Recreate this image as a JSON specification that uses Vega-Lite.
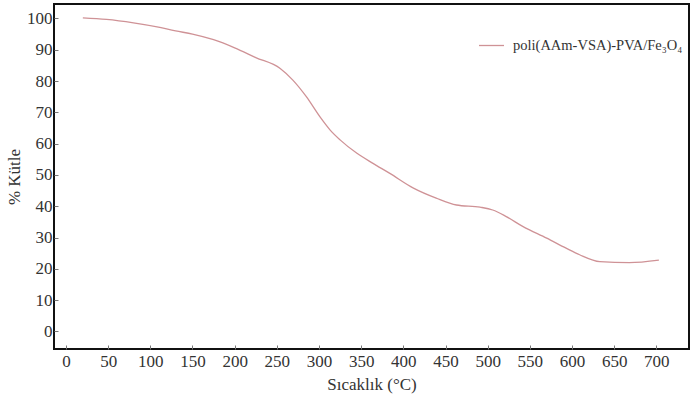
{
  "$schema": "https://vega.github.io/schema/vega-lite/v6.json",
  "width": 635,
  "height": 345,
  "autosize": {"type": "none"},
  "padding": {"left": 54, "top": 4, "right": 8, "bottom": 61},
  "background": "white",
  "config": {
    "view": {"stroke": "#111", "strokeWidth": 2},
    "axis": {
      "labelFont": "Tinos, Times, serif",
      "titleFont": "Tinos, Times, serif",
      "labelFontSize": 17,
      "titleFontSize": 17,
      "titleFontWeight": "normal",
      "labelColor": "#333",
      "titleColor": "#333",
      "grid": false,
      "domain": false,
      "tickColor": "#777",
      "tickSize": -4
    },
    "legend": {"labelLimit": 400}
  },
  "data": {
    "values": [
      {"T": 20, "m": 100.2, "series": "poli(AAm-VSA)-PVA/Fe₃O₄"},
      {"T": 48, "m": 99.7, "series": "poli(AAm-VSA)-PVA/Fe₃O₄"},
      {"T": 80, "m": 98.6, "series": "poli(AAm-VSA)-PVA/Fe₃O₄"},
      {"T": 108, "m": 97.3, "series": "poli(AAm-VSA)-PVA/Fe₃O₄"},
      {"T": 130, "m": 96.0, "series": "poli(AAm-VSA)-PVA/Fe₃O₄"},
      {"T": 150, "m": 95.0, "series": "poli(AAm-VSA)-PVA/Fe₃O₄"},
      {"T": 175, "m": 93.2, "series": "poli(AAm-VSA)-PVA/Fe₃O₄"},
      {"T": 200, "m": 90.6, "series": "poli(AAm-VSA)-PVA/Fe₃O₄"},
      {"T": 225, "m": 87.5, "series": "poli(AAm-VSA)-PVA/Fe₃O₄"},
      {"T": 254, "m": 84.0, "series": "poli(AAm-VSA)-PVA/Fe₃O₄"},
      {"T": 269, "m": 80.3, "series": "poli(AAm-VSA)-PVA/Fe₃O₄"},
      {"T": 285, "m": 75.0, "series": "poli(AAm-VSA)-PVA/Fe₃O₄"},
      {"T": 301, "m": 68.6, "series": "poli(AAm-VSA)-PVA/Fe₃O₄"},
      {"T": 313, "m": 64.4, "series": "poli(AAm-VSA)-PVA/Fe₃O₄"},
      {"T": 325, "m": 61.2, "series": "poli(AAm-VSA)-PVA/Fe₃O₄"},
      {"T": 345, "m": 56.9, "series": "poli(AAm-VSA)-PVA/Fe₃O₄"},
      {"T": 364, "m": 53.7, "series": "poli(AAm-VSA)-PVA/Fe₃O₄"},
      {"T": 384, "m": 50.5, "series": "poli(AAm-VSA)-PVA/Fe₃O₄"},
      {"T": 412, "m": 45.8, "series": "poli(AAm-VSA)-PVA/Fe₃O₄"},
      {"T": 439, "m": 42.6, "series": "poli(AAm-VSA)-PVA/Fe₃O₄"},
      {"T": 463, "m": 40.4, "series": "poli(AAm-VSA)-PVA/Fe₃O₄"},
      {"T": 491, "m": 39.7, "series": "poli(AAm-VSA)-PVA/Fe₃O₄"},
      {"T": 506, "m": 38.8, "series": "poli(AAm-VSA)-PVA/Fe₃O₄"},
      {"T": 522, "m": 36.7, "series": "poli(AAm-VSA)-PVA/Fe₃O₄"},
      {"T": 542, "m": 33.5, "series": "poli(AAm-VSA)-PVA/Fe₃O₄"},
      {"T": 570, "m": 29.8, "series": "poli(AAm-VSA)-PVA/Fe₃O₄"},
      {"T": 593, "m": 26.6, "series": "poli(AAm-VSA)-PVA/Fe₃O₄"},
      {"T": 609, "m": 24.5, "series": "poli(AAm-VSA)-PVA/Fe₃O₄"},
      {"T": 633, "m": 22.3, "series": "poli(AAm-VSA)-PVA/Fe₃O₄"},
      {"T": 668, "m": 22.0, "series": "poli(AAm-VSA)-PVA/Fe₃O₄"},
      {"T": 703, "m": 22.8, "series": "poli(AAm-VSA)-PVA/Fe₃O₄"}
    ]
  },
  "mark": {"type": "line", "interpolate": "monotone", "strokeWidth": 1.3},
  "encoding": {
    "x": {
      "field": "T",
      "type": "quantitative",
      "scale": {"domain": [-14.2, 738.7], "nice": false, "zero": false},
      "axis": {"values": [0,50,100,150,200,250,300,350,400,450,500,550,600,650,700], "title": "Sıcaklık (°C)", "labelPadding": 8, "titlePadding": 7}
    },
    "y": {
      "field": "m",
      "type": "quantitative",
      "scale": {"domain": [-5.6, 104.6], "nice": false, "zero": false},
      "axis": {"values": [0,10,20,30,40,50,60,70,80,90,100], "title": "% Kütle", "labelPadding": 6, "titlePadding": 3}
    },
    "color": {
      "field": "series",
      "type": "nominal",
      "scale": {"range": ["#cf9296"]},
      "legend": {
        "title": null,
        "orient": "none",
        "legendX": 424,
        "legendY": 28,
        "symbolType": "stroke",
        "symbolSize": 625,
        "symbolStrokeWidth": 1.3,
        "labelFont": "Tinos, Times, serif",
        "labelFontSize": 14.5,
        "labelColor": "#333",
        "labelOffset": 8,
        "labelLimit": 400
      }
    }
  }
}
